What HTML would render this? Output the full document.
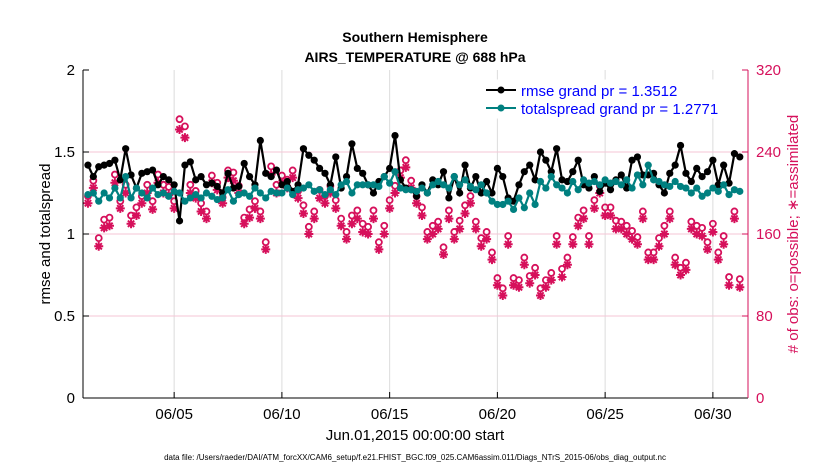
<!DOCTYPE html>
<html><head><meta charset="utf-8"><style>
body{margin:0;background:#fff;}
svg text{font-family:"Liberation Sans",sans-serif;}
</style></head><body>
<svg id="chart" width="830" height="470" xmlns="http://www.w3.org/2000/svg">
<rect width="830" height="470" fill="#fff"/>
<g id="grid"></g>
<g id="series"></g>
<g id="axes"></g>
<text x="415" y="42" text-anchor="middle" font-size="14" font-weight="bold">Southern Hemisphere</text>
<text x="415" y="62" text-anchor="middle" font-size="14" font-weight="bold">AIRS_TEMPERATURE @ 688 hPa</text>
<text transform="translate(50,234) rotate(-90)" text-anchor="middle" font-size="15">rmse and totalspread</text>
<text transform="translate(798,234) rotate(-90)" text-anchor="middle" font-size="15" fill="#d6105b"># of obs: o=possible; ∗=assimilated</text>
<text x="415" y="440" text-anchor="middle" font-size="15">Jun.01,2015 00:00:00 start</text>
<text x="415" y="460" text-anchor="middle" font-size="8">data file: /Users/raeder/DAI/ATM_forcXX/CAM6_setup/f.e21.FHIST_BGC.f09_025.CAM6assim.011/Diags_NTrS_2015-06/obs_diag_output.nc</text>
<g>
<rect x="478" y="80" width="266" height="38" fill="#fff" stroke="#fff"/>
<line x1="486" y1="90" x2="516" y2="90" stroke="#000" stroke-width="2"/>
<circle cx="501" cy="90" r="3.5" fill="#000"/>
<text x="521" y="96" font-size="15" fill="#0000ff">rmse grand pr = 1.3512</text>
<line x1="486" y1="108" x2="516" y2="108" stroke="#008080" stroke-width="2"/>
<circle cx="501" cy="108" r="3.5" fill="#008080"/>
<text x="521" y="114" font-size="15" fill="#0000ff">totalspread grand pr = 1.2771</text>
</g>
</svg>
<script>
const rmse=[1.42,1.35,1.41,1.42,1.43,1.45,1.33,1.52,1.36,1.28,1.37,1.38,1.39,1.30,1.35,1.33,1.30,1.08,1.42,1.44,1.33,1.35,1.30,1.31,1.29,1.25,1.37,1.28,1.29,1.43,1.35,1.30,1.57,1.37,1.35,1.39,1.30,1.32,1.26,1.30,1.52,1.48,1.45,1.40,1.37,1.30,1.47,1.28,1.35,1.55,1.40,1.37,1.30,1.25,1.32,1.35,1.40,1.60,1.33,1.28,1.27,1.23,1.30,1.25,1.33,1.30,1.38,1.22,1.35,1.25,1.42,1.28,1.35,1.25,1.32,1.25,1.40,1.35,1.22,1.20,1.30,1.38,1.42,1.33,1.50,1.45,1.38,1.52,1.33,1.32,1.38,1.45,1.30,1.28,1.35,1.26,1.31,1.27,1.33,1.36,1.28,1.45,1.47,1.36,1.36,1.37,1.30,1.25,1.37,1.42,1.54,1.37,1.32,1.40,1.35,1.38,1.45,1.30,1.42,1.31,1.49,1.47];
const spread=[1.24,1.25,1.20,1.25,1.22,1.28,1.22,1.35,1.22,1.28,1.25,1.22,1.28,1.24,1.25,1.23,1.26,1.25,1.20,1.22,1.24,1.22,1.25,1.23,1.21,1.22,1.27,1.20,1.24,1.25,1.23,1.28,1.25,1.22,1.26,1.25,1.25,1.28,1.24,1.27,1.28,1.30,1.26,1.27,1.24,1.27,1.24,1.30,1.32,1.25,1.30,1.30,1.30,1.30,1.29,1.35,1.31,1.38,1.28,1.27,1.27,1.26,1.28,1.25,1.30,1.32,1.30,1.28,1.35,1.30,1.33,1.29,1.27,1.30,1.25,1.20,1.18,1.18,1.20,1.15,1.22,1.16,1.25,1.18,1.32,1.28,1.35,1.30,1.28,1.25,1.32,1.27,1.33,1.31,1.32,1.30,1.33,1.31,1.32,1.30,1.33,1.28,1.36,1.30,1.42,1.33,1.32,1.30,1.29,1.32,1.29,1.28,1.25,1.28,1.23,1.25,1.28,1.26,1.30,1.24,1.27,1.26];
const assimilated=[190,205,148,166,168,210,185,200,170,178,190,200,184,210,200,198,185,262,254,200,195,182,175,210,203,190,215,212,200,170,176,185,175,145,218,200,210,205,215,195,180,160,175,195,190,200,185,168,155,170,175,162,160,175,145,160,185,200,215,225,205,190,178,155,160,165,140,175,155,165,180,190,165,148,155,135,110,100,150,110,108,130,112,120,100,108,115,150,118,130,150,168,175,150,185,200,178,178,165,165,160,155,150,175,135,135,148,160,175,130,120,125,165,160,158,145,162,135,150,110,175,108];
const possible=[197,212,156,174,176,218,192,208,178,186,197,208,192,218,208,206,192,272,265,208,202,190,182,217,210,196,222,220,207,176,184,192,182,152,226,208,217,213,222,202,188,167,182,203,197,207,193,175,162,178,183,170,167,183,152,168,193,207,222,232,212,197,186,162,168,172,147,183,162,173,188,197,172,156,162,142,117,107,158,117,115,137,119,127,107,115,122,158,126,137,157,176,183,158,193,207,186,186,173,172,168,163,157,182,142,142,156,168,182,137,127,132,172,168,166,152,170,142,158,118,182,116];
const xTickDays=[5,10,15,20,25,30];
const xTickLabels=["06/05","06/10","06/15","06/20","06/25","06/30"];
const yTicks=[0,0.5,1,1.5,2];
const y2Ticks=[0,80,160,240,320];

const L=83,R=748,T=70,B=398,X0=0.77,X1=31.63;
const NS="http://www.w3.org/2000/svg";
const xs=d=>L+(d-X0)/(X1-X0)*(R-L);
const ys=v=>B-v/2*(B-T);
const ys2=v=>B-v/320*(B-T);
const dayOf=i=>1+i*0.25;
function mk(tag,attrs,parent){const e=document.createElementNS(NS,tag);for(const k in attrs)e.setAttribute(k,attrs[k]);parent.appendChild(e);return e;}
const grid=document.getElementById('grid'),ser=document.getElementById('series'),ax=document.getElementById('axes');

xTickDays.forEach((d,i)=>{
  const g=mk('line',{x1:xs(d),x2:xs(d),y1:T,y2:B,stroke:'#dcdcdc','stroke-width':1},grid);
  
  
  const t=mk('line',{x1:xs(d),x2:xs(d),y1:B,y2:B-6,stroke:'#000'},ax);
  
  
  const tx=mk('text',{x:xs(d),y:B+21,'text-anchor':'middle','font-size':15},ax);
  tx.textContent=xTickLabels[i];
  
  
});
yTicks.forEach(v=>{
  if(v>0&&v<2){const g=mk('line',{x1:L,x2:R,y1:ys(v),y2:ys(v),stroke:'#f4c6d6','stroke-width':1},grid);
  
  }
  const t=mk('line',{x1:L,x2:L+6,y1:ys(v),y2:ys(v),stroke:'#000'},ax);
  
  
  const tx=mk('text',{x:L-8,y:ys(v)+5,'text-anchor':'end','font-size':15},ax);
  tx.textContent=String(v);
  
  
});
y2Ticks.forEach(v=>{
  const t=mk('line',{x1:R,x2:R-6,y1:ys2(v),y2:ys2(v),stroke:'#d6105b'},ax);
  
  
  const tx=mk('text',{x:R+8,y:ys2(v)+5,'font-size':15,fill:'#d6105b'},ax);
  tx.textContent=String(v);
  
  
});
const la=mk('line',{x1:L,x2:L,y1:T,y2:B,stroke:'#000'},ax);


const lb=mk('line',{x1:L,x2:R,y1:B,y2:B,stroke:'#000'},ax);


const lr=mk('line',{x1:R,x2:R,y1:T,y2:B,stroke:'#d6105b'},ax);



const pc='#d6105b';
possible.forEach((v,i)=>{
  const c=mk('circle',{cx:xs(dayOf(i)),cy:ys2(v),r:3,fill:'none',stroke:pc,'stroke-width':1.8},ser);
  
  
});
assimilated.forEach((v,i)=>{
  const x=xs(dayOf(i)),y=ys2(v),s=4.5;
  const d=`M${x-s},${y}H${x+s}M${x},${y-s}V${y+s}M${x-s*0.7},${y-s*0.7}L${x+s*0.7},${y+s*0.7}M${x-s*0.7},${y+s*0.7}L${x+s*0.7},${y-s*0.7}`;
  const p=mk('path',{d:d,stroke:pc,'stroke-width':2,fill:'none'},ser);
  
  
});
function line(arr,color,name){
  const pts=arr.map((v,i)=>xs(dayOf(i))+','+ys(v)).join(' ');
  const pl=mk('polyline',{points:pts,fill:'none',stroke:color,'stroke-width':2.2},ser);
  
  
  arr.forEach((v,i)=>{
    const c=mk('circle',{cx:xs(dayOf(i)),cy:ys(v),r:3.6,fill:color},ser);
    
    
  });
}
line(rmse,'#000','rmse');
line(spread,'#008080','totalspread');
</script>
</body></html>
